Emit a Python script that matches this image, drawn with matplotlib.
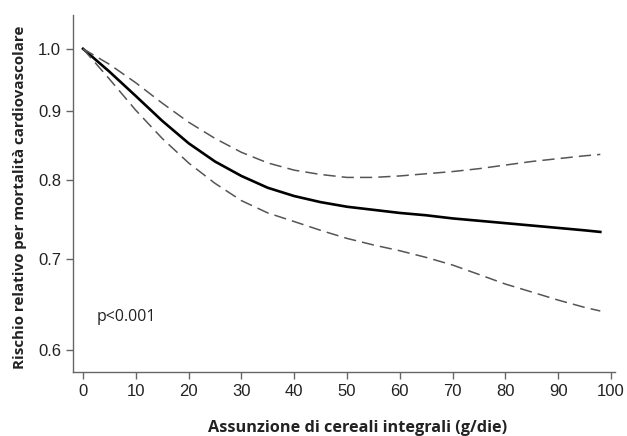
import numpy as np
import matplotlib
matplotlib.use('Agg')
import matplotlib.pyplot as plt
from matplotlib.ticker import FixedLocator, NullLocator

# valori
x = [0, 5, 10, 15, 20, 25, 30, 35, 40, 45, 50, 55, 60, 65, 70, 75, 80, 85, 90, 95, 98]
rr = [1.0, 0.962, 0.923, 0.885, 0.852, 0.826, 0.806, 0.790, 0.779, 0.771, 0.765,
      0.761, 0.757, 0.754, 0.750, 0.747, 0.744, 0.741, 0.738, 0.735, 0.733]
ci_up = [1.0, 0.974, 0.944, 0.912, 0.883, 0.859, 0.839, 0.824, 0.814, 0.808, 0.804,
         0.804, 0.806, 0.809, 0.812, 0.816, 0.821, 0.826, 0.830, 0.834, 0.836]
ci_lo = [1.0, 0.950, 0.901, 0.859, 0.824, 0.796, 0.773, 0.757, 0.746, 0.735, 0.725,
         0.717, 0.710, 0.702, 0.693, 0.682, 0.671, 0.662, 0.653, 0.645, 0.641]
yticks = [0.6, 0.7, 0.8, 0.9, 1.0]
xticks = list(range(0, 101, 10))

fig = plt.figure(figsize=(6.27, 4.36), dpi=100)
ax = fig.add_axes([0.1164, 0.1468, 0.981 - 0.1164, 0.9656 - 0.1468])

ax.plot(x, rr, color='black', lw=1.9)
ax.plot(x, ci_up, color='#555555', lw=1.1, dashes=(8, 4))
ax.plot(x, ci_lo, color='#555555', lw=1.1, dashes=(8, 4))

ax.set_yscale('log')
ax.set_ylim(0.578, 1.059)
ax.set_xlim(-1.9, 100.8)
ax.yaxis.set_major_locator(FixedLocator(yticks))
ax.yaxis.set_minor_locator(NullLocator())
ax.set_yticklabels(['%.1f' % v for v in yticks])
ax.set_xticks(xticks)

for s in ['top', 'right']:
    ax.spines[s].set_visible(False)
for s in ['left', 'bottom']:
    ax.spines[s].set_color('#666666')
    ax.spines[s].set_linewidth(1.0)
ax.tick_params(colors='#666666', length=5, width=1.0, labelcolor='#222222',
               labelsize=12)
for lab in ax.get_xticklabels() + ax.get_yticklabels():
    lab.set_family('Liberation Sans')

ax.text(2.65, 0.635, 'p<0.001', fontsize=11.5, family='Open Sans', color='#222222',
        ha='left', va='center')

W, H = 627, 436
ylab = fig.text(20 / W, 1 - 197 / H, 'Rischio relativo per mortalità cardiovascolare',
                rotation=90, ha='center', va='center', fontsize=10.5,
                fontweight='bold', family='Open Sans', color='#222222')
xlab = fig.text(358 / W, 1 - 432 / H, 'Assunzione di cereali integrali (g/die)',
                ha='center', va='baseline', fontsize=10.5, fontweight='bold',
                family='Open Sans', color='#222222')

# adatta la dimensione del font alla lunghezza delle etichette
r = fig.canvas.get_renderer()
hy = ylab.get_window_extent(r).height
ylab.set_fontsize(10.5 * 345 / hy)
wx = xlab.get_window_extent(r).width
xlab.set_fontsize(10.5 * 300 / wx)

fig.savefig('out.png', dpi=100)
